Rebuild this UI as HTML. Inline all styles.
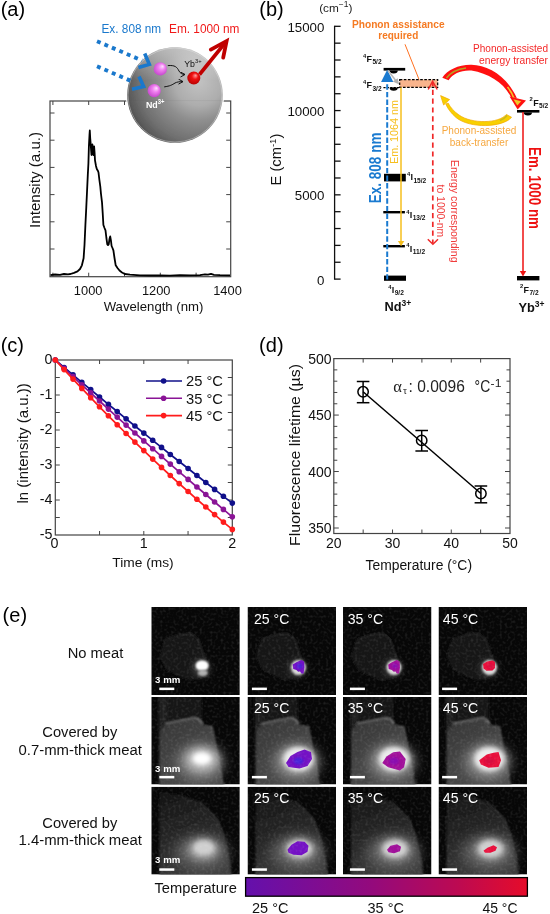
<!DOCTYPE html>
<html><head><meta charset="utf-8"><style>
html,body{margin:0;padding:0;background:#fff;}
svg{display:block;font-family:"Liberation Sans", sans-serif;will-change:transform;}
</style></head><body>
<svg width="550" height="914" viewBox="0 0 550 914">
<defs>
<radialGradient id="sph" cx="0.75" cy="0.36" r="0.9">
<stop offset="0" stop-color="#c2c2c2"/><stop offset="0.28" stop-color="#adadad"/><stop offset="0.45" stop-color="#8f8f8f"/><stop offset="0.7" stop-color="#707070"/><stop offset="0.86" stop-color="#545454"/><stop offset="1" stop-color="#4c4c4c"/></radialGradient>
<filter id="soft" x="-10%" y="-10%" width="120%" height="120%"><feGaussianBlur stdDeviation="0.7"/></filter>
<linearGradient id="sphtop" x1="0" y1="0" x2="0" y2="1"><stop offset="0" stop-color="#fff" stop-opacity="0.45"/><stop offset="0.35" stop-color="#fff" stop-opacity="0"/></linearGradient>
<radialGradient id="pink" cx="0.5" cy="0.45" r="0.6" fx="0.68" fy="0.3"><stop offset="0" stop-color="#ffe0ff"/><stop offset="0.4" stop-color="#f080f0"/><stop offset="1" stop-color="#c040c8"/></radialGradient>
<radialGradient id="redb" cx="0.5" cy="0.45" r="0.6" fx="0.65" fy="0.3"><stop offset="0" stop-color="#ffa0a0"/><stop offset="0.4" stop-color="#f01010"/><stop offset="1" stop-color="#b00000"/></radialGradient>
<marker id="ah" markerWidth="6" markerHeight="6" refX="5" refY="3" orient="auto" markerUnits="userSpaceOnUse"><path d="M0.5,0.5 L5,3 L0.5,5.5" fill="none" stroke="#111" stroke-width="1"/></marker>
<linearGradient id="cbar" x1="0" y1="0" x2="1" y2="0">
<stop offset="0" stop-color="#6410ac"/><stop offset="0.45" stop-color="#940a7c"/><stop offset="0.75" stop-color="#bc0a52"/><stop offset="1" stop-color="#e60c2a"/></linearGradient>
<linearGradient id="mg2" x1="0" y1="0" x2="0.6" y2="1"><stop offset="0" stop-color="#343434"/><stop offset="0.5" stop-color="#444444"/><stop offset="1" stop-color="#4a4a4a"/></linearGradient>
<linearGradient id="mg3" x1="0" y1="0" x2="0.3" y2="1"><stop offset="0" stop-color="#141414"/><stop offset="0.5" stop-color="#262626"/><stop offset="1" stop-color="#3c3c3c"/></linearGradient>
<filter id="noise" x="0" y="0" width="100%" height="100%"><feTurbulence type="fractalNoise" baseFrequency="0.38" numOctaves="1" seed="3"/><feColorMatrix type="matrix" values="0 0 0 0 1  0 0 0 0 1  0 0 0 0 1  1.2 0 0 0 -0.55"/></filter>
<filter id="b1" x="-50%" y="-50%" width="200%" height="200%"><feGaussianBlur stdDeviation="1"/></filter>
<filter id="b2" x="-50%" y="-50%" width="200%" height="200%"><feGaussianBlur stdDeviation="2"/></filter>
<filter id="b3" x="-50%" y="-50%" width="200%" height="200%"><feGaussianBlur stdDeviation="3.5"/></filter>
<filter id="b5" x="-50%" y="-50%" width="200%" height="200%"><feGaussianBlur stdDeviation="6"/></filter>
</defs>
<text x="0.7" y="15.6" font-size="20" text-anchor="start" fill="#000" >(a)</text>
<rect x="50" y="101" width="180.7" height="175.7" fill="none" stroke="#444" stroke-width="1.2"/>
<line x1="52.90" y1="276.70" x2="52.90" y2="272.70" stroke="#444" stroke-width="1" />
<line x1="52.90" y1="101.00" x2="52.90" y2="105.00" stroke="#444" stroke-width="1" />
<line x1="88.70" y1="276.70" x2="88.70" y2="272.70" stroke="#444" stroke-width="1" />
<line x1="88.70" y1="101.00" x2="88.70" y2="105.00" stroke="#444" stroke-width="1" />
<line x1="124.50" y1="276.70" x2="124.50" y2="272.70" stroke="#444" stroke-width="1" />
<line x1="124.50" y1="101.00" x2="124.50" y2="105.00" stroke="#444" stroke-width="1" />
<line x1="160.30" y1="276.70" x2="160.30" y2="272.70" stroke="#444" stroke-width="1" />
<line x1="160.30" y1="101.00" x2="160.30" y2="105.00" stroke="#444" stroke-width="1" />
<line x1="196.10" y1="276.70" x2="196.10" y2="272.70" stroke="#444" stroke-width="1" />
<line x1="196.10" y1="101.00" x2="196.10" y2="105.00" stroke="#444" stroke-width="1" />
<line x1="50.00" y1="113.00" x2="54.50" y2="113.00" stroke="#444" stroke-width="1" />
<line x1="230.70" y1="113.00" x2="226.20" y2="113.00" stroke="#444" stroke-width="1" />
<line x1="50.00" y1="140.20" x2="54.50" y2="140.20" stroke="#444" stroke-width="1" />
<line x1="230.70" y1="140.20" x2="226.20" y2="140.20" stroke="#444" stroke-width="1" />
<line x1="50.00" y1="167.40" x2="54.50" y2="167.40" stroke="#444" stroke-width="1" />
<line x1="230.70" y1="167.40" x2="226.20" y2="167.40" stroke="#444" stroke-width="1" />
<line x1="50.00" y1="194.60" x2="54.50" y2="194.60" stroke="#444" stroke-width="1" />
<line x1="230.70" y1="194.60" x2="226.20" y2="194.60" stroke="#444" stroke-width="1" />
<line x1="50.00" y1="221.80" x2="54.50" y2="221.80" stroke="#444" stroke-width="1" />
<line x1="230.70" y1="221.80" x2="226.20" y2="221.80" stroke="#444" stroke-width="1" />
<line x1="50.00" y1="249.00" x2="54.50" y2="249.00" stroke="#444" stroke-width="1" />
<line x1="230.70" y1="249.00" x2="226.20" y2="249.00" stroke="#444" stroke-width="1" />
<path d="M50.5,275.2 L55.0,274.5 L60.0,274.9 L64.0,274.0 L68.0,274.3 L70.5,274.0 L74.0,272.8 L77.5,271.4 L80.0,269.0 L81.9,265.3 L83.6,258.3 L84.5,245.0 L85.4,225.0 L86.3,207.0 L87.1,190.0 L87.8,175.0 L88.4,163.8 L88.9,146.3 L89.5,135.0 L89.8,130.5 L90.2,138.0 L90.6,142.8 L91.1,150.0 L91.5,155.0 L92.0,148.0 L92.4,144.5 L92.9,150.0 L93.3,155.0 L93.7,150.0 L94.1,146.3 L94.6,153.0 L95.0,160.3 L96.0,166.0 L96.8,169.0 L98.0,171.0 L98.5,172.5 L99.4,180.0 L100.3,186.5 L101.0,194.0 L102.0,202.3 L102.7,213.0 L103.4,225.0 L104.5,228.0 L105.5,230.3 L106.4,238.0 L107.3,244.3 L108.0,245.0 L108.7,244.3 L109.5,239.0 L110.2,236.4 L111.0,241.0 L111.6,246.0 L112.5,248.0 L113.4,250.4 L114.5,258.0 L115.7,265.3 L117.5,268.0 L119.5,270.5 L122.0,272.5 L124.8,274.0 L130.0,274.6 L140.0,275.3 L150.0,275.5 L160.0,275.3 L170.0,275.6 L180.0,275.2 L190.0,275.4 L200.0,275.1 L205.0,274.3 L208.0,274.6 L211.0,273.9 L214.0,274.8 L220.0,275.2 L230.0,275.4" fill="none" stroke="#000" stroke-width="1.8" stroke-linejoin="round"/>
<text x="88.15" y="295.3" font-size="12.7" text-anchor="middle" fill="#111" textLength="28.6" lengthAdjust="spacingAndGlyphs" >1000</text>
<text x="156.2" y="295.3" font-size="12.7" text-anchor="middle" fill="#111" textLength="28.6" lengthAdjust="spacingAndGlyphs" >1200</text>
<text x="227.5" y="295.3" font-size="12.7" text-anchor="middle" fill="#111" textLength="28.6" lengthAdjust="spacingAndGlyphs" >1400</text>
<text x="103.7" y="311.2" font-size="13.1" text-anchor="start" fill="#111" textLength="99.7" lengthAdjust="spacingAndGlyphs" >Wavelength (nm)</text>
<text x="40.2" y="227.9" font-size="14" text-anchor="start" fill="#111" transform="rotate(-90 40.2 227.9)" textLength="96" lengthAdjust="spacingAndGlyphs" >Intensity (a.u.)</text>
<circle cx="175" cy="95" r="49.2" fill="#fff" opacity="0.9"/>
<g filter="url(#soft)"><circle cx="175" cy="95" r="47.8" fill="url(#sph)"/>
<circle cx="175" cy="95" r="47.8" fill="url(#sphtop)"/>
<circle cx="175" cy="95" r="47" fill="none" stroke="#e8e8e8" stroke-width="1" opacity="0.4"/></g>
<line x1="128" y1="100.6" x2="222" y2="100.6" stroke="#505050" stroke-width="1" opacity="0.07"/>
<line x1="97" y1="41.2" x2="142" y2="60.5" stroke="#1a78cc" stroke-width="3.9" stroke-dasharray="3.9 4.2"/>
<line x1="97" y1="66.3" x2="134" y2="82.2" stroke="#1a78cc" stroke-width="3.9" stroke-dasharray="3.9 4.2"/>
<path d="M144.7,53.5 L149.3,64.4 L138.4,67.5" fill="none" stroke="#1a78cc" stroke-width="3.6"/>
<path d="M139,76.5 L143.6,86.6 L132,89.2" fill="none" stroke="#1a78cc" stroke-width="3.6"/>
<path d="M167.8,65.6 C175,65 177,67 179,71 C180,73 182,74.5 185,74.5" fill="none" stroke="#111" stroke-width="1" marker-end="url(#ah)"/>
<path d="M164.2,86.9 C170,86 172,85 175,83 C177,82 179,81.6 183,81.6" fill="none" stroke="#111" stroke-width="1" marker-end="url(#ah)"/>
<circle cx="160.3" cy="68.9" r="6.6" fill="url(#pink)"/>
<circle cx="154.2" cy="90.7" r="6.6" fill="url(#pink)"/>
<circle cx="193.8" cy="78" r="6.5" fill="url(#redb)"/>
<line x1="199.5" y1="74.5" x2="225" y2="43" stroke="#c00000" stroke-width="3.6"/>
<path d="M210.8,49.6 L226.6,41 L223.2,57.6" fill="none" stroke="#c00000" stroke-width="3.8" stroke-linecap="round" stroke-linejoin="miter"/>
<text x="184.2" y="66.8" font-size="9.4" text-anchor="start" fill="#111" textLength="17.4" lengthAdjust="spacingAndGlyphs" >Yb<tspan font-size="6.2" dy="-3.4">3+</tspan></text>
<text x="145.9" y="107.6" font-size="9.8" text-anchor="start" fill="#fff" font-weight="bold" textLength="18.5" lengthAdjust="spacingAndGlyphs" >Nd<tspan font-size="6.5" dy="-3.5">3+</tspan></text>
<text x="101.5" y="33.2" font-size="12" text-anchor="start" fill="#1a78cc" textLength="59.7" lengthAdjust="spacingAndGlyphs" >Ex. 808 nm</text>
<text x="169" y="33.2" font-size="12" text-anchor="start" fill="#f01818" textLength="70.4" lengthAdjust="spacingAndGlyphs" >Em. 1000 nm</text>
<text x="259.3" y="15.6" font-size="20" text-anchor="start" fill="#000" >(b)</text>
<text x="319.2" y="12.2" font-size="11.8" text-anchor="start" fill="#222" >(cm<tspan font-size="8.5" dy="-5">−1</tspan><tspan dy="5">)</tspan></text>
<line x1="334.60" y1="25.71" x2="334.60" y2="279.70" stroke="#111" stroke-width="1.3" />
<line x1="334.60" y1="279.10" x2="340.60" y2="279.10" stroke="#111" stroke-width="1.3" />
<line x1="334.60" y1="262.25" x2="340.60" y2="262.25" stroke="#111" stroke-width="1.3" />
<line x1="334.60" y1="245.39" x2="340.60" y2="245.39" stroke="#111" stroke-width="1.3" />
<line x1="334.60" y1="228.54" x2="340.60" y2="228.54" stroke="#111" stroke-width="1.3" />
<line x1="334.60" y1="211.69" x2="340.60" y2="211.69" stroke="#111" stroke-width="1.3" />
<line x1="334.60" y1="194.84" x2="340.60" y2="194.84" stroke="#111" stroke-width="1.3" />
<line x1="334.60" y1="177.98" x2="340.60" y2="177.98" stroke="#111" stroke-width="1.3" />
<line x1="334.60" y1="161.13" x2="340.60" y2="161.13" stroke="#111" stroke-width="1.3" />
<line x1="334.60" y1="144.28" x2="340.60" y2="144.28" stroke="#111" stroke-width="1.3" />
<line x1="334.60" y1="127.42" x2="340.60" y2="127.42" stroke="#111" stroke-width="1.3" />
<line x1="334.60" y1="110.57" x2="340.60" y2="110.57" stroke="#111" stroke-width="1.3" />
<line x1="334.60" y1="93.72" x2="340.60" y2="93.72" stroke="#111" stroke-width="1.3" />
<line x1="334.60" y1="76.86" x2="340.60" y2="76.86" stroke="#111" stroke-width="1.3" />
<line x1="334.60" y1="60.01" x2="340.60" y2="60.01" stroke="#111" stroke-width="1.3" />
<line x1="334.60" y1="43.16" x2="340.60" y2="43.16" stroke="#111" stroke-width="1.3" />
<line x1="334.60" y1="26.31" x2="340.60" y2="26.31" stroke="#111" stroke-width="1.3" />
<text x="324.4" y="284.70000000000005" font-size="13.3" text-anchor="end" fill="#111" >0</text>
<text x="324.4" y="200.435" font-size="13.3" text-anchor="end" fill="#111" >5000</text>
<text x="324.4" y="116.16999999999999" font-size="13.3" text-anchor="end" fill="#111" >10000</text>
<text x="324.4" y="31.90500000000001" font-size="13.3" text-anchor="end" fill="#111" >15000</text>
<text x="280.9" y="185.4" font-size="14.7" text-anchor="start" fill="#111" transform="rotate(-90 280.9 185.4)" >E (cm<tspan font-size="9.5" dy="-5">-1</tspan><tspan dy="5">)</tspan></text>
<rect x="383.6" y="67.9" width="21.6" height="2.7" fill="#000"/>
<path d="M389.6,70.4 A4.1,3 0 0 0 397.8,70.4 Z" fill="#000"/>
<line x1="383.4" y1="87.6" x2="399.7" y2="87.6" stroke="#000" stroke-width="1.3" stroke-dasharray="2.2 1.2"/>
<path d="M389.6,87.6 A4.1,3.2 0 0 0 397.8,87.6 Z" fill="#000"/>
<rect x="384" y="173.8" width="21.8" height="7.6" fill="#000"/>
<rect x="383.3" y="211" width="21.6" height="2.4" fill="#000"/>
<rect x="383.3" y="245" width="21.6" height="2.4" fill="#000"/>
<rect x="384" y="275.6" width="22" height="5.2" fill="#000"/>
<rect x="517" y="110" width="22.4" height="2.6" fill="#000"/>
<path d="M523.8,112.4 A4.1,3 0 0 0 532,112.4 Z" fill="#000"/>
<rect x="517" y="276" width="22.4" height="4.4" fill="#000"/>
<line x1="387.2" y1="82" x2="387.2" y2="279.5" stroke="#1a7ad0" stroke-width="2" stroke-dasharray="5.4 2.2" stroke-dashoffset="5.3"/>
<rect x="399.7" y="79.6" width="38" height="7.8" fill="#f9b48c" stroke="#000" stroke-width="1.2" stroke-dasharray="2.6 1.5"/>
<line x1="405" y1="44.3" x2="419" y2="79.4" stroke="#ff7020" stroke-width="1"/>
<path d="M387.2,69.7 L393.3,81.9 L381.1,81.9 Z" fill="#1a7ad0"/>
<line x1="388" y1="70.5" x2="396.5" y2="81.5" stroke="#b8b8b8" stroke-width="1.6"/>
<path d="M399.2,84.6 L392.8,81.6 L397.6,78.2 Z" fill="#b0b0b0"/>
<line x1="401" y1="87.6" x2="401" y2="242" stroke="#f6bf1e" stroke-width="1.5"/>
<path d="M397.9,241 L404.3,241 L401.1,246.3 Z" fill="#f6bf1e"/>
<line x1="432.8" y1="83" x2="432.8" y2="243" stroke="#f02828" stroke-width="1.7" stroke-dasharray="5.2 3.6" stroke-dashoffset="2"/>
<path d="M428.2,89.5 L432.6,81.3 L437.2,89.5" fill="none" stroke="#f02828" stroke-width="1.5"/>
<path d="M427.8,239.2 L432.9,244.3 L438,239.2" fill="none" stroke="#f02828" stroke-width="1.5"/>
<line x1="523" y1="112" x2="523" y2="272" stroke="#ee1111" stroke-width="1.5"/>
<path d="M519.8,271 L526.2,271 L523,276.5 Z" fill="#ee1111"/>
<path d="M442.3,77.7 C447,70 459,64.5 471.4,64.8 C488,65.3 507,76 516.8,98 L511.2,97.5 C504,83 489,73.5 471.4,70.6 C461,70 453,73.5 448.6,80.2 Z" fill="#ff1010"/>
<path d="M446.5,78 C451,72 458,69 466,68" fill="none" stroke="#b8a020" stroke-width="1.5"/>
<path d="M507.5,87 C510.5,90.5 512.5,94 514,98.5" fill="none" stroke="#f0c828" stroke-width="1.6"/>
<path d="M509.6,96.6 L526,100.6 L517.6,109.6 Z" fill="#ff1010"/>
<path d="M513.4,99.2 L521.2,101.2 L517.3,105.4 Z" fill="#f0c828"/>
<path d="M511.6,117.3 C503,127.5 470,129 456,117.5 C451,113 447.5,108.5 445.8,104 L448.1,103 C450.5,107.5 454,111.5 459,115 C472,124.2 499,123.5 506.4,114.4 Z" fill="#f8d000" stroke="#f2a800" stroke-width="0.7"/>
<path d="M507,115.5 C505,118 503,119.5 500,120.5" fill="none" stroke="#c8b820" stroke-width="1.5"/>
<path d="M440.6,95.6 L449.6,99.6 L443.6,105 Z" fill="#f8d000" stroke="#f2a800" stroke-width="0.7"/>
<text x="398.3" y="27.7" font-size="10.2" text-anchor="middle" fill="#f57a22" font-weight="bold" textLength="92.7" lengthAdjust="spacingAndGlyphs" >Phonon assistance</text>
<text x="398.3" y="38.6" font-size="10.2" text-anchor="middle" fill="#f57a22" font-weight="bold" textLength="39.9" lengthAdjust="spacingAndGlyphs" >required</text>
<text x="548" y="52" font-size="10.3" text-anchor="end" fill="#f42828" textLength="75" lengthAdjust="spacingAndGlyphs" >Phonon-assisted</text>
<text x="548" y="64.2" font-size="10.3" text-anchor="end" fill="#f42828" textLength="69" lengthAdjust="spacingAndGlyphs" >energy transfer</text>
<text x="479" y="134.1" font-size="10.2" text-anchor="middle" fill="#f6a840" textLength="74.6" lengthAdjust="spacingAndGlyphs" >Phonon-assisted</text>
<text x="479" y="146.2" font-size="10.2" text-anchor="middle" fill="#f6a840" textLength="58.5" lengthAdjust="spacingAndGlyphs" >back-transfer</text>
<text x="381" y="203.3" font-size="16.2" text-anchor="start" fill="#1a7ad0" font-weight="bold" transform="rotate(-90 381 203.3)" textLength="70.8" lengthAdjust="spacingAndGlyphs" >Ex. 808 nm</text>
<text x="398.3" y="164" font-size="10.8" text-anchor="start" fill="#f6bf1e" transform="rotate(-90 398.3 164)" textLength="64" lengthAdjust="spacingAndGlyphs" >Em. 1064 nm</text>
<text x="528.6" y="147" font-size="16.4" text-anchor="start" fill="#ee1111" font-weight="bold" transform="rotate(90 528.6 147)" textLength="82" lengthAdjust="spacingAndGlyphs" >Em. 1000 nm</text>
<text x="450.6" y="160" font-size="11.5" text-anchor="start" fill="#f03c3c" transform="rotate(90 450.6 160)" textLength="102.5" lengthAdjust="spacingAndGlyphs" >Energy corresponding</text>
<text x="437.4" y="184.6" font-size="11.5" text-anchor="start" fill="#f03c3c" transform="rotate(90 437.4 184.6)" textLength="52.6" lengthAdjust="spacingAndGlyphs" >to 1000-nm</text>
<text x="363" y="62.1" font-size="9" font-weight="bold" fill="#111"><tspan font-size="5.8" dy="-4.6">4</tspan><tspan dy="4.6" dx="0.3">F</tspan><tspan font-size="6.6" dy="2.2" dx="0.4">5/2</tspan></text>
<text x="363" y="88.3" font-size="9" font-weight="bold" fill="#111"><tspan font-size="5.8" dy="-4.6">4</tspan><tspan dy="4.6" dx="0.3">F</tspan><tspan font-size="6.6" dy="2.2" dx="0.4">3/2</tspan></text>
<text x="407" y="180.3" font-size="9" font-weight="bold" fill="#111"><tspan font-size="5.8" dy="-4.6">4</tspan><tspan dy="4.6" dx="0.3">I</tspan><tspan font-size="6.6" dy="2.2" dx="0.4">15/2</tspan></text>
<text x="406.2" y="218.2" font-size="9" font-weight="bold" fill="#111"><tspan font-size="5.8" dy="-4.6">4</tspan><tspan dy="4.6" dx="0.3">I</tspan><tspan font-size="6.6" dy="2.2" dx="0.4">13/2</tspan></text>
<text x="406.2" y="251.8" font-size="9" font-weight="bold" fill="#111"><tspan font-size="5.8" dy="-4.6">4</tspan><tspan dy="4.6" dx="0.3">I</tspan><tspan font-size="6.6" dy="2.2" dx="0.4">11/2</tspan></text>
<text x="388.2" y="293.2" font-size="9" font-weight="bold" fill="#111"><tspan font-size="5.8" dy="-4.6">4</tspan><tspan dy="4.6" dx="0.3">I</tspan><tspan font-size="6.6" dy="2.2" dx="0.4">9/2</tspan></text>
<text x="529.6" y="106" font-size="9" font-weight="bold" fill="#111"><tspan font-size="5.8" dy="-4.6">2</tspan><tspan dy="4.6" dx="0.3">F</tspan><tspan font-size="6.6" dy="2.2" dx="0.4">5/2</tspan></text>
<text x="520" y="293" font-size="9" font-weight="bold" fill="#111"><tspan font-size="5.8" dy="-4.6">2</tspan><tspan dy="4.6" dx="0.3">F</tspan><tspan font-size="6.6" dy="2.2" dx="0.4">7/2</tspan></text>
<text x="384.4" y="311.4" font-size="12.8" text-anchor="start" fill="#111" font-weight="bold" >Nd<tspan font-size="8.5" dy="-5">3+</tspan></text>
<text x="518.4" y="312" font-size="12.8" text-anchor="start" fill="#111" font-weight="bold" >Yb<tspan font-size="8.5" dy="-5">3+</tspan></text>
<text x="0.7" y="352.2" font-size="20" text-anchor="start" fill="#000" >(c)</text>
<rect x="55.3" y="360" width="177.0" height="175" fill="none" stroke="#444" stroke-width="1.2"/>
<line x1="99.55" y1="535.00" x2="99.55" y2="531.00" stroke="#444" stroke-width="1" />
<line x1="99.55" y1="360.00" x2="99.55" y2="364.00" stroke="#444" stroke-width="1" />
<line x1="143.80" y1="535.00" x2="143.80" y2="531.00" stroke="#444" stroke-width="1" />
<line x1="143.80" y1="360.00" x2="143.80" y2="364.00" stroke="#444" stroke-width="1" />
<line x1="188.05" y1="535.00" x2="188.05" y2="531.00" stroke="#444" stroke-width="1" />
<line x1="188.05" y1="360.00" x2="188.05" y2="364.00" stroke="#444" stroke-width="1" />
<line x1="55.30" y1="377.50" x2="59.80" y2="377.50" stroke="#444" stroke-width="1" />
<line x1="232.30" y1="377.50" x2="227.80" y2="377.50" stroke="#444" stroke-width="1" />
<line x1="55.30" y1="395.00" x2="59.80" y2="395.00" stroke="#444" stroke-width="1" />
<line x1="232.30" y1="395.00" x2="227.80" y2="395.00" stroke="#444" stroke-width="1" />
<line x1="55.30" y1="412.50" x2="59.80" y2="412.50" stroke="#444" stroke-width="1" />
<line x1="232.30" y1="412.50" x2="227.80" y2="412.50" stroke="#444" stroke-width="1" />
<line x1="55.30" y1="430.00" x2="59.80" y2="430.00" stroke="#444" stroke-width="1" />
<line x1="232.30" y1="430.00" x2="227.80" y2="430.00" stroke="#444" stroke-width="1" />
<line x1="55.30" y1="447.50" x2="59.80" y2="447.50" stroke="#444" stroke-width="1" />
<line x1="232.30" y1="447.50" x2="227.80" y2="447.50" stroke="#444" stroke-width="1" />
<line x1="55.30" y1="465.00" x2="59.80" y2="465.00" stroke="#444" stroke-width="1" />
<line x1="232.30" y1="465.00" x2="227.80" y2="465.00" stroke="#444" stroke-width="1" />
<line x1="55.30" y1="482.50" x2="59.80" y2="482.50" stroke="#444" stroke-width="1" />
<line x1="232.30" y1="482.50" x2="227.80" y2="482.50" stroke="#444" stroke-width="1" />
<line x1="55.30" y1="500.00" x2="59.80" y2="500.00" stroke="#444" stroke-width="1" />
<line x1="232.30" y1="500.00" x2="227.80" y2="500.00" stroke="#444" stroke-width="1" />
<line x1="55.30" y1="517.50" x2="59.80" y2="517.50" stroke="#444" stroke-width="1" />
<line x1="232.30" y1="517.50" x2="227.80" y2="517.50" stroke="#444" stroke-width="1" />
<text x="52.4" y="363.7" font-size="14.3" text-anchor="end" fill="#111" >0</text>
<text x="52.4" y="398.7" font-size="14.3" text-anchor="end" fill="#111" >-1</text>
<text x="52.4" y="433.7" font-size="14.3" text-anchor="end" fill="#111" >-2</text>
<text x="52.4" y="468.7" font-size="14.3" text-anchor="end" fill="#111" >-3</text>
<text x="52.4" y="503.7" font-size="14.3" text-anchor="end" fill="#111" >-4</text>
<text x="52.4" y="538.7" font-size="14.3" text-anchor="end" fill="#111" >-5</text>
<text x="54.5" y="548.1" font-size="14.3" text-anchor="middle" fill="#111" >0</text>
<text x="143.8" y="548.1" font-size="14.3" text-anchor="middle" fill="#111" >1</text>
<text x="232.3" y="548.1" font-size="14.3" text-anchor="middle" fill="#111" >2</text>
<text x="112.3" y="566.8" font-size="13.7" text-anchor="start" fill="#111" textLength="61.3" lengthAdjust="spacingAndGlyphs" >Time (ms)</text>
<text x="28" y="503.5" font-size="14.8" text-anchor="start" fill="#111" transform="rotate(-90 28 503.5)" textLength="120.2" lengthAdjust="spacingAndGlyphs" >ln (intensity (a.u.))</text>
<path d="M55.3,360.0 L64.1,367.5 L73.0,374.9 L81.8,382.3 L90.7,389.6 L99.5,397.0 L108.4,404.3 L117.2,411.5 L126.1,418.8 L134.9,426.0 L143.8,433.1 L152.7,440.3 L161.5,447.4 L170.3,454.5 L179.2,461.5 L188.1,468.5 L196.9,475.5 L205.8,482.5 L214.6,489.4 L223.4,496.3 L232.3,503.1" fill="none" stroke="#10108a" stroke-width="1.7"/>
<circle cx="55.3" cy="360.0" r="2.8" fill="#10108a"/>
<circle cx="64.1" cy="367.5" r="2.8" fill="#10108a"/>
<circle cx="73.0" cy="374.9" r="2.8" fill="#10108a"/>
<circle cx="81.8" cy="382.3" r="2.8" fill="#10108a"/>
<circle cx="90.7" cy="389.6" r="2.8" fill="#10108a"/>
<circle cx="99.5" cy="397.0" r="2.8" fill="#10108a"/>
<circle cx="108.4" cy="404.3" r="2.8" fill="#10108a"/>
<circle cx="117.2" cy="411.5" r="2.8" fill="#10108a"/>
<circle cx="126.1" cy="418.8" r="2.8" fill="#10108a"/>
<circle cx="134.9" cy="426.0" r="2.8" fill="#10108a"/>
<circle cx="143.8" cy="433.1" r="2.8" fill="#10108a"/>
<circle cx="152.7" cy="440.3" r="2.8" fill="#10108a"/>
<circle cx="161.5" cy="447.4" r="2.8" fill="#10108a"/>
<circle cx="170.3" cy="454.5" r="2.8" fill="#10108a"/>
<circle cx="179.2" cy="461.5" r="2.8" fill="#10108a"/>
<circle cx="188.1" cy="468.5" r="2.8" fill="#10108a"/>
<circle cx="196.9" cy="475.5" r="2.8" fill="#10108a"/>
<circle cx="205.8" cy="482.5" r="2.8" fill="#10108a"/>
<circle cx="214.6" cy="489.4" r="2.8" fill="#10108a"/>
<circle cx="223.4" cy="496.3" r="2.8" fill="#10108a"/>
<circle cx="232.3" cy="503.1" r="2.8" fill="#10108a"/>
<path d="M55.3,360.0 L64.1,368.3 L73.0,376.6 L81.8,384.8 L90.7,392.9 L99.5,401.0 L108.4,409.1 L117.2,417.1 L126.1,425.1 L134.9,433.0 L143.8,440.9 L152.7,448.7 L161.5,456.4 L170.3,464.1 L179.2,471.8 L188.1,479.4 L196.9,487.0 L205.8,494.5 L214.6,502.0 L223.4,509.4 L232.3,516.8" fill="none" stroke="#8a1496" stroke-width="1.7"/>
<circle cx="55.3" cy="360.0" r="2.8" fill="#8a1496"/>
<circle cx="64.1" cy="368.3" r="2.8" fill="#8a1496"/>
<circle cx="73.0" cy="376.6" r="2.8" fill="#8a1496"/>
<circle cx="81.8" cy="384.8" r="2.8" fill="#8a1496"/>
<circle cx="90.7" cy="392.9" r="2.8" fill="#8a1496"/>
<circle cx="99.5" cy="401.0" r="2.8" fill="#8a1496"/>
<circle cx="108.4" cy="409.1" r="2.8" fill="#8a1496"/>
<circle cx="117.2" cy="417.1" r="2.8" fill="#8a1496"/>
<circle cx="126.1" cy="425.1" r="2.8" fill="#8a1496"/>
<circle cx="134.9" cy="433.0" r="2.8" fill="#8a1496"/>
<circle cx="143.8" cy="440.9" r="2.8" fill="#8a1496"/>
<circle cx="152.7" cy="448.7" r="2.8" fill="#8a1496"/>
<circle cx="161.5" cy="456.4" r="2.8" fill="#8a1496"/>
<circle cx="170.3" cy="464.1" r="2.8" fill="#8a1496"/>
<circle cx="179.2" cy="471.8" r="2.8" fill="#8a1496"/>
<circle cx="188.1" cy="479.4" r="2.8" fill="#8a1496"/>
<circle cx="196.9" cy="487.0" r="2.8" fill="#8a1496"/>
<circle cx="205.8" cy="494.5" r="2.8" fill="#8a1496"/>
<circle cx="214.6" cy="502.0" r="2.8" fill="#8a1496"/>
<circle cx="223.4" cy="509.4" r="2.8" fill="#8a1496"/>
<circle cx="232.3" cy="516.8" r="2.8" fill="#8a1496"/>
<path d="M55.3,360.0 L64.1,369.6 L73.0,379.1 L81.8,388.4 L90.7,397.7 L99.5,406.8 L108.4,415.8 L117.2,424.7 L126.1,433.5 L134.9,442.1 L143.8,450.6 L152.7,459.1 L161.5,467.4 L170.3,475.5 L179.2,483.6 L188.1,491.5 L196.9,499.3 L205.8,507.0 L214.6,514.6 L223.4,522.1 L232.3,529.4" fill="none" stroke="#ff1c1c" stroke-width="1.7"/>
<circle cx="55.3" cy="360.0" r="2.8" fill="#ff1c1c"/>
<circle cx="64.1" cy="369.6" r="2.8" fill="#ff1c1c"/>
<circle cx="73.0" cy="379.1" r="2.8" fill="#ff1c1c"/>
<circle cx="81.8" cy="388.4" r="2.8" fill="#ff1c1c"/>
<circle cx="90.7" cy="397.7" r="2.8" fill="#ff1c1c"/>
<circle cx="99.5" cy="406.8" r="2.8" fill="#ff1c1c"/>
<circle cx="108.4" cy="415.8" r="2.8" fill="#ff1c1c"/>
<circle cx="117.2" cy="424.7" r="2.8" fill="#ff1c1c"/>
<circle cx="126.1" cy="433.5" r="2.8" fill="#ff1c1c"/>
<circle cx="134.9" cy="442.1" r="2.8" fill="#ff1c1c"/>
<circle cx="143.8" cy="450.6" r="2.8" fill="#ff1c1c"/>
<circle cx="152.7" cy="459.1" r="2.8" fill="#ff1c1c"/>
<circle cx="161.5" cy="467.4" r="2.8" fill="#ff1c1c"/>
<circle cx="170.3" cy="475.5" r="2.8" fill="#ff1c1c"/>
<circle cx="179.2" cy="483.6" r="2.8" fill="#ff1c1c"/>
<circle cx="188.1" cy="491.5" r="2.8" fill="#ff1c1c"/>
<circle cx="196.9" cy="499.3" r="2.8" fill="#ff1c1c"/>
<circle cx="205.8" cy="507.0" r="2.8" fill="#ff1c1c"/>
<circle cx="214.6" cy="514.6" r="2.8" fill="#ff1c1c"/>
<circle cx="223.4" cy="522.1" r="2.8" fill="#ff1c1c"/>
<circle cx="232.3" cy="529.4" r="2.8" fill="#ff1c1c"/>
<line x1="146.00" y1="381.00" x2="182.00" y2="381.00" stroke="#10108a" stroke-width="1.6" />
<circle cx="163.6" cy="381.0" r="2.8" fill="#10108a"/>
<text x="186" y="386.2" font-size="14.5" text-anchor="start" fill="#111" textLength="37" lengthAdjust="spacingAndGlyphs" >25 °C</text>
<line x1="146.00" y1="398.30" x2="182.00" y2="398.30" stroke="#8a1496" stroke-width="1.6" />
<circle cx="163.6" cy="398.3" r="2.8" fill="#8a1496"/>
<text x="186" y="403.5" font-size="14.5" text-anchor="start" fill="#111" textLength="37" lengthAdjust="spacingAndGlyphs" >35 °C</text>
<line x1="146.00" y1="415.60" x2="182.00" y2="415.60" stroke="#ff1c1c" stroke-width="1.6" />
<circle cx="163.6" cy="415.6" r="2.8" fill="#ff1c1c"/>
<text x="186" y="420.8" font-size="14.5" text-anchor="start" fill="#111" textLength="37" lengthAdjust="spacingAndGlyphs" >45 °C</text>
<text x="259.1" y="352.3" font-size="20" text-anchor="start" fill="#000" >(d)</text>
<rect x="333.8" y="358.6" width="176.2" height="174.89999999999998" fill="none" stroke="#444" stroke-width="1.2"/>
<line x1="363.17" y1="533.50" x2="363.17" y2="529.50" stroke="#444" stroke-width="1" />
<line x1="363.17" y1="358.60" x2="363.17" y2="362.60" stroke="#444" stroke-width="1" />
<line x1="392.53" y1="533.50" x2="392.53" y2="529.50" stroke="#444" stroke-width="1" />
<line x1="392.53" y1="358.60" x2="392.53" y2="362.60" stroke="#444" stroke-width="1" />
<line x1="421.90" y1="533.50" x2="421.90" y2="529.50" stroke="#444" stroke-width="1" />
<line x1="421.90" y1="358.60" x2="421.90" y2="362.60" stroke="#444" stroke-width="1" />
<line x1="451.27" y1="533.50" x2="451.27" y2="529.50" stroke="#444" stroke-width="1" />
<line x1="451.27" y1="358.60" x2="451.27" y2="362.60" stroke="#444" stroke-width="1" />
<line x1="480.63" y1="533.50" x2="480.63" y2="529.50" stroke="#444" stroke-width="1" />
<line x1="480.63" y1="358.60" x2="480.63" y2="362.60" stroke="#444" stroke-width="1" />
<line x1="333.80" y1="528.00" x2="338.80" y2="528.00" stroke="#444" stroke-width="1" />
<line x1="510.00" y1="528.00" x2="505.00" y2="528.00" stroke="#444" stroke-width="1" />
<line x1="333.80" y1="516.71" x2="337.30" y2="516.71" stroke="#444" stroke-width="1" />
<line x1="510.00" y1="516.71" x2="506.50" y2="516.71" stroke="#444" stroke-width="1" />
<line x1="333.80" y1="505.41" x2="337.30" y2="505.41" stroke="#444" stroke-width="1" />
<line x1="510.00" y1="505.41" x2="506.50" y2="505.41" stroke="#444" stroke-width="1" />
<line x1="333.80" y1="494.12" x2="337.30" y2="494.12" stroke="#444" stroke-width="1" />
<line x1="510.00" y1="494.12" x2="506.50" y2="494.12" stroke="#444" stroke-width="1" />
<line x1="333.80" y1="482.83" x2="337.30" y2="482.83" stroke="#444" stroke-width="1" />
<line x1="510.00" y1="482.83" x2="506.50" y2="482.83" stroke="#444" stroke-width="1" />
<line x1="333.80" y1="471.53" x2="338.80" y2="471.53" stroke="#444" stroke-width="1" />
<line x1="510.00" y1="471.53" x2="505.00" y2="471.53" stroke="#444" stroke-width="1" />
<line x1="333.80" y1="460.24" x2="337.30" y2="460.24" stroke="#444" stroke-width="1" />
<line x1="510.00" y1="460.24" x2="506.50" y2="460.24" stroke="#444" stroke-width="1" />
<line x1="333.80" y1="448.95" x2="337.30" y2="448.95" stroke="#444" stroke-width="1" />
<line x1="510.00" y1="448.95" x2="506.50" y2="448.95" stroke="#444" stroke-width="1" />
<line x1="333.80" y1="437.65" x2="337.30" y2="437.65" stroke="#444" stroke-width="1" />
<line x1="510.00" y1="437.65" x2="506.50" y2="437.65" stroke="#444" stroke-width="1" />
<line x1="333.80" y1="426.36" x2="337.30" y2="426.36" stroke="#444" stroke-width="1" />
<line x1="510.00" y1="426.36" x2="506.50" y2="426.36" stroke="#444" stroke-width="1" />
<line x1="333.80" y1="415.07" x2="338.80" y2="415.07" stroke="#444" stroke-width="1" />
<line x1="510.00" y1="415.07" x2="505.00" y2="415.07" stroke="#444" stroke-width="1" />
<line x1="333.80" y1="403.77" x2="337.30" y2="403.77" stroke="#444" stroke-width="1" />
<line x1="510.00" y1="403.77" x2="506.50" y2="403.77" stroke="#444" stroke-width="1" />
<line x1="333.80" y1="392.48" x2="337.30" y2="392.48" stroke="#444" stroke-width="1" />
<line x1="510.00" y1="392.48" x2="506.50" y2="392.48" stroke="#444" stroke-width="1" />
<line x1="333.80" y1="381.19" x2="337.30" y2="381.19" stroke="#444" stroke-width="1" />
<line x1="510.00" y1="381.19" x2="506.50" y2="381.19" stroke="#444" stroke-width="1" />
<line x1="333.80" y1="369.89" x2="337.30" y2="369.89" stroke="#444" stroke-width="1" />
<line x1="510.00" y1="369.89" x2="506.50" y2="369.89" stroke="#444" stroke-width="1" />
<text x="331.5" y="533.0" font-size="14" text-anchor="end" fill="#111" >350</text>
<text x="331.5" y="476.53333333333336" font-size="14" text-anchor="end" fill="#111" >400</text>
<text x="331.5" y="420.0666666666667" font-size="14" text-anchor="end" fill="#111" >450</text>
<text x="331.5" y="363.6" font-size="14" text-anchor="end" fill="#111" >500</text>
<text x="333.8" y="548.2" font-size="14" text-anchor="middle" fill="#111" >20</text>
<text x="392.53333333333336" y="548.2" font-size="14" text-anchor="middle" fill="#111" >30</text>
<text x="451.26666666666665" y="548.2" font-size="14" text-anchor="middle" fill="#111" >40</text>
<text x="510.0" y="548.2" font-size="14" text-anchor="middle" fill="#111" >50</text>
<text x="365.5" y="569.7" font-size="14" text-anchor="start" fill="#111" textLength="106.5" lengthAdjust="spacingAndGlyphs" >Temperature (°C)</text>
<text x="299.5" y="546" font-size="14.2" text-anchor="start" fill="#111" transform="rotate(-90 299.5 546)" textLength="182" lengthAdjust="spacingAndGlyphs" >Fluorescence lifetime (µs)</text>
<line x1="363.10" y1="391.80" x2="480.90" y2="493.50" stroke="#000" stroke-width="1.5" />
<line x1="363.10" y1="381.50" x2="363.10" y2="402.70" stroke="#000" stroke-width="1.5" />
<line x1="356.80" y1="381.50" x2="369.40" y2="381.50" stroke="#000" stroke-width="1.5" />
<line x1="356.80" y1="402.70" x2="369.40" y2="402.70" stroke="#000" stroke-width="1.5" />
<circle cx="363.1" cy="391.8" r="5.2" fill="none" stroke="#000" stroke-width="1.5"/>
<line x1="421.70" y1="430.50" x2="421.70" y2="451.00" stroke="#000" stroke-width="1.5" />
<line x1="415.40" y1="430.50" x2="428.00" y2="430.50" stroke="#000" stroke-width="1.5" />
<line x1="415.40" y1="451.00" x2="428.00" y2="451.00" stroke="#000" stroke-width="1.5" />
<circle cx="421.7" cy="440.4" r="5.2" fill="none" stroke="#000" stroke-width="1.5"/>
<line x1="480.90" y1="486.00" x2="480.90" y2="502.80" stroke="#000" stroke-width="1.5" />
<line x1="474.60" y1="486.00" x2="487.20" y2="486.00" stroke="#000" stroke-width="1.5" />
<line x1="474.60" y1="502.80" x2="487.20" y2="502.80" stroke="#000" stroke-width="1.5" />
<circle cx="480.9" cy="493.5" r="5.2" fill="none" stroke="#000" stroke-width="1.5"/>
<text x="393.2" y="392" font-size="16.5" text-anchor="start" fill="#222" font-family="Liberation Serif">&#945;</text>
<text x="403.1" y="393.5" font-size="10" text-anchor="start" fill="#222" font-family="Liberation Serif">&#964;</text>
<text x="408.6" y="392" font-size="15.7" text-anchor="start" fill="#222" >:</text>
<text x="417.2" y="392" font-size="15.7" text-anchor="start" fill="#222" textLength="47.6" lengthAdjust="spacingAndGlyphs" >0.0096</text>
<text x="474.6" y="392" font-size="15.7" text-anchor="start" fill="#222" textLength="15.6" lengthAdjust="spacingAndGlyphs" >°C</text>
<text x="490.6" y="386.6" font-size="10" text-anchor="start" fill="#222" textLength="10.8" lengthAdjust="spacingAndGlyphs" >-1</text>
<text x="2.6" y="621.8" font-size="20" text-anchor="start" fill="#000" >(e)</text>
<text x="95.5" y="658.2" font-size="14.7" text-anchor="middle" fill="#111" textLength="55.7" lengthAdjust="spacingAndGlyphs" >No meat</text>
<text x="79.8" y="736.8" font-size="14.7" text-anchor="middle" fill="#111" textLength="75" lengthAdjust="spacingAndGlyphs" >Covered by</text>
<text x="80.2" y="754.5" font-size="14.7" text-anchor="middle" fill="#111" textLength="123.3" lengthAdjust="spacingAndGlyphs" >0.7-mm-thick meat</text>
<text x="79.8" y="827.6" font-size="14.7" text-anchor="middle" fill="#111" textLength="75" lengthAdjust="spacingAndGlyphs" >Covered by</text>
<text x="80.2" y="845.2" font-size="14.7" text-anchor="middle" fill="#111" textLength="123.3" lengthAdjust="spacingAndGlyphs" >1.4-mm-thick meat</text>
<clipPath id="c00"><rect x="151.3" y="607" width="88.5" height="88"/></clipPath>
<g clip-path="url(#c00)">
<rect x="151.3" y="607" width="88.5" height="88" fill="#070707"/>
<polygon points="165.0,639.5 180.1,634.4 191.8,633.6 198.5,639.5 203.5,654.5 207.7,666.2 208.5,674.6 200.2,678.0 190.1,679.6 180.1,676.3 166.7,669.6 160.0,656.2" fill="#141414" filter="url(#b1)" stroke="#1a1a1a" stroke-width="1.2"/>
<polyline points="165.3,639.5 180.1,634.6 191.8,633.8 198.5,639.5 203.5,654.5 207.7,666.2" fill="none" stroke="#262626" stroke-width="1.2" filter="url(#b1)"/>
<ellipse cx="201.3" cy="668.0" rx="8" ry="8" fill="#4a4a4a" filter="url(#b3)"/>
<ellipse cx="202.1" cy="665.6" rx="6.6" ry="5.3" fill="#ffffff" filter="url(#b1)"/>
<ellipse cx="202.8" cy="673.0" rx="5" ry="3.2" fill="#b0b0b0" filter="url(#b1)"/>
<rect x="151.3" y="607" width="88.5" height="88" filter="url(#noise)" opacity="0.22"/>
<rect x="159.3" y="687.6" width="15" height="2.5" fill="#fff"/>
<text x="155.10000000000002" y="683" font-size="9.8" text-anchor="start" fill="#fff" font-weight="bold" textLength="25.2" lengthAdjust="spacingAndGlyphs" >3 mm</text>
</g>
<clipPath id="c01"><rect x="247.5" y="607" width="88.5" height="88"/></clipPath>
<g clip-path="url(#c01)">
<rect x="247.5" y="607" width="88.5" height="88" fill="#070707"/>
<polygon points="261.2,639.5 276.3,634.4 288.0,633.6 294.7,639.5 299.7,654.5 303.9,666.2 304.7,674.6 296.4,678.0 286.3,679.6 276.3,676.3 262.9,669.6 256.2,656.2" fill="#141414" filter="url(#b1)" stroke="#1a1a1a" stroke-width="1.2"/>
<polyline points="261.5,639.5 276.3,634.6 288.0,633.8 294.7,639.5 299.7,654.5 303.9,666.2" fill="none" stroke="#262626" stroke-width="1.2" filter="url(#b1)"/>
<ellipse cx="297.5" cy="668.0" rx="8" ry="8" fill="#4a4a4a" filter="url(#b3)"/>
<ellipse cx="298.5" cy="667.5" rx="7.5" ry="7.5" fill="#d8d8d8" filter="url(#b1)"/>
<polygon points="292.7,664.5 296.4,662.3 301.4,660.0 304.1,661.4 304.5,667.3 303.6,673.6 301.4,673.6 300.0,671.4 298.2,671.8 296.4,670.0 293.2,669.1" fill="#7412c4"/>
<ellipse cx="299.5" cy="666.0" rx="3" ry="2.5" fill="#4a22d8" filter="url(#b1)"/>
<rect x="247.5" y="607" width="88.5" height="88" filter="url(#noise)" opacity="0.22"/>
<rect x="251.9" y="687.6" width="15" height="2.5" fill="#fff"/>
<text x="254" y="623.6" font-size="15" text-anchor="start" fill="#fff" textLength="35.4" lengthAdjust="spacingAndGlyphs" >25 °C</text>
</g>
<clipPath id="c02"><rect x="343" y="607" width="88.5" height="88"/></clipPath>
<g clip-path="url(#c02)">
<rect x="343" y="607" width="88.5" height="88" fill="#070707"/>
<polygon points="356.7,639.5 371.8,634.4 383.5,633.6 390.2,639.5 395.2,654.5 399.4,666.2 400.2,674.6 391.9,678.0 381.8,679.6 371.8,676.3 358.4,669.6 351.7,656.2" fill="#141414" filter="url(#b1)" stroke="#1a1a1a" stroke-width="1.2"/>
<polyline points="357.0,639.5 371.8,634.6 383.5,633.8 390.2,639.5 395.2,654.5 399.4,666.2" fill="none" stroke="#262626" stroke-width="1.2" filter="url(#b1)"/>
<ellipse cx="393.0" cy="668.0" rx="8" ry="8" fill="#4a4a4a" filter="url(#b3)"/>
<ellipse cx="394.0" cy="667.5" rx="7.5" ry="7.5" fill="#d8d8d8" filter="url(#b1)"/>
<polygon points="388.2,664.5 391.9,662.3 396.9,660.0 399.6,661.4 400.0,667.3 399.1,673.6 396.9,673.6 395.5,671.4 393.7,671.8 391.9,670.0 388.7,669.1" fill="#a0109a"/>
<ellipse cx="395.0" cy="666.0" rx="3" ry="2.5" fill="#8a10b0" filter="url(#b1)"/>
<rect x="343" y="607" width="88.5" height="88" filter="url(#noise)" opacity="0.22"/>
<rect x="349.9" y="687.6" width="15" height="2.5" fill="#fff"/>
<text x="347.7" y="623.6" font-size="15" text-anchor="start" fill="#fff" textLength="35.4" lengthAdjust="spacingAndGlyphs" >35 °C</text>
</g>
<clipPath id="c03"><rect x="438.5" y="607" width="88.5" height="88"/></clipPath>
<g clip-path="url(#c03)">
<rect x="438.5" y="607" width="88.5" height="88" fill="#070707"/>
<polygon points="452.2,639.5 467.3,634.4 479.0,633.6 485.7,639.5 490.7,654.5 494.9,666.2 495.7,674.6 487.4,678.0 477.3,679.6 467.3,676.3 453.9,669.6 447.2,656.2" fill="#141414" filter="url(#b1)" stroke="#1a1a1a" stroke-width="1.2"/>
<polyline points="452.5,639.5 467.3,634.6 479.0,633.8 485.7,639.5 490.7,654.5 494.9,666.2" fill="none" stroke="#262626" stroke-width="1.2" filter="url(#b1)"/>
<ellipse cx="488.5" cy="668.0" rx="8" ry="8" fill="#4a4a4a" filter="url(#b3)"/>
<ellipse cx="489.5" cy="667.5" rx="7.5" ry="7.5" fill="#d8d8d8" filter="url(#b1)"/>
<polygon points="483.0,664.0 487.0,661.5 492.5,660.5 495.0,662.0 495.0,668.0 492.5,670.5 486.5,670.8 483.5,668.5" fill="#e8103c"/>
<ellipse cx="490.5" cy="666.0" rx="3" ry="2.5" fill="#d81040" filter="url(#b1)"/>
<rect x="438.5" y="607" width="88.5" height="88" filter="url(#noise)" opacity="0.22"/>
<rect x="442.1" y="687.6" width="15" height="2.5" fill="#fff"/>
<text x="442.8" y="623.6" font-size="15" text-anchor="start" fill="#fff" textLength="35.4" lengthAdjust="spacingAndGlyphs" >45 °C</text>
</g>
<clipPath id="c10"><rect x="151.3" y="697" width="88.5" height="87.5"/></clipPath>
<g clip-path="url(#c10)">
<rect x="151.3" y="697" width="88.5" height="87.5" fill="#070707"/>
<polygon points="159.3,695.0 201.8,695.0 201.8,719.4 195.3,717.7 165.3,723.6 159.3,730.0" fill="#181818" filter="url(#b1)"/>
<polygon points="159.3,695.0 167.3,695.0 166.3,723.0 159.3,730.0" fill="#222222" filter="url(#b2)"/>
<polygon points="159.3,730.0 165.3,723.6 195.3,717.7 199.3,719.4 201.8,719.4 203.5,726.0 211.9,726.9 214.3,739.5 216.9,752.9 218.6,762.9 221.9,776.3 224.4,784.7 224.8,789.0 159.3,789.0" fill="url(#mg2)" filter="url(#b1)"/>
<polyline points="165.3,723.6 195.3,717.7 199.3,719.4 202.3,724.0" fill="none" stroke="#909090" stroke-width="1.3" filter="url(#b1)"/>
<polyline points="203.5,726.0 211.9,726.9 214.3,739.5 216.9,752.9 218.6,762.9 221.9,776.3" fill="none" stroke="#6a6a6a" stroke-width="1.2" filter="url(#b1)"/>
<ellipse cx="200.3" cy="762.0" rx="23" ry="18" fill="#808080" filter="url(#b5)"/>
<ellipse cx="201.8" cy="759.5" rx="16" ry="12" fill="#b8b8b8" filter="url(#b3)"/>
<ellipse cx="201.8" cy="758.5" rx="9.5" ry="6.5" fill="#ffffff" filter="url(#b2)"/>
<rect x="151.3" y="697" width="88.5" height="87.5" filter="url(#noise)" opacity="0.22"/>
<rect x="159.3" y="775.9" width="15" height="2.5" fill="#fff"/>
<text x="155.10000000000002" y="772" font-size="9.8" text-anchor="start" fill="#fff" font-weight="bold" textLength="25.2" lengthAdjust="spacingAndGlyphs" >3 mm</text>
</g>
<clipPath id="c11"><rect x="247.5" y="697" width="88.5" height="87.5"/></clipPath>
<g clip-path="url(#c11)">
<rect x="247.5" y="697" width="88.5" height="87.5" fill="#070707"/>
<polygon points="255.5,695.0 298.0,695.0 298.0,719.4 291.5,717.7 261.5,723.6 255.5,730.0" fill="#181818" filter="url(#b1)"/>
<polygon points="255.5,695.0 263.5,695.0 262.5,723.0 255.5,730.0" fill="#222222" filter="url(#b2)"/>
<polygon points="255.5,730.0 261.5,723.6 291.5,717.7 295.5,719.4 298.0,719.4 299.7,726.0 308.1,726.9 310.5,739.5 313.1,752.9 314.8,762.9 318.1,776.3 320.6,784.7 321.0,789.0 255.5,789.0" fill="url(#mg2)" filter="url(#b1)"/>
<polyline points="261.5,723.6 291.5,717.7 295.5,719.4 298.5,724.0" fill="none" stroke="#909090" stroke-width="1.3" filter="url(#b1)"/>
<polyline points="299.7,726.0 308.1,726.9 310.5,739.5 313.1,752.9 314.8,762.9 318.1,776.3" fill="none" stroke="#6a6a6a" stroke-width="1.2" filter="url(#b1)"/>
<ellipse cx="296.5" cy="762.0" rx="23" ry="18" fill="#808080" filter="url(#b5)"/>
<ellipse cx="298.0" cy="759.5" rx="16" ry="12" fill="#b8b8b8" filter="url(#b3)"/>
<ellipse cx="298.5" cy="759.0" rx="14.5" ry="11.5" fill="#ececec" filter="url(#b2)"/>
<polygon points="286.0,763.0 290.5,756.0 297.5,752.0 304.5,749.5 311.0,752.0 312.0,759.0 307.5,766.0 299.5,768.5 288.5,767.0" fill="#7412c4"/>
<ellipse cx="298.5" cy="761.0" rx="5" ry="3.5" fill="#4a22d8" filter="url(#b1)"/>
<rect x="247.5" y="697" width="88.5" height="87.5" filter="url(#noise)" opacity="0.22"/>
<rect x="251.9" y="775.9" width="15" height="2.5" fill="#fff"/>
<text x="254" y="712.6" font-size="15" text-anchor="start" fill="#fff" textLength="35.4" lengthAdjust="spacingAndGlyphs" >25 °C</text>
</g>
<clipPath id="c12"><rect x="343" y="697" width="88.5" height="87.5"/></clipPath>
<g clip-path="url(#c12)">
<rect x="343" y="697" width="88.5" height="87.5" fill="#070707"/>
<polygon points="351.0,695.0 393.5,695.0 393.5,719.4 387.0,717.7 357.0,723.6 351.0,730.0" fill="#181818" filter="url(#b1)"/>
<polygon points="351.0,695.0 359.0,695.0 358.0,723.0 351.0,730.0" fill="#222222" filter="url(#b2)"/>
<polygon points="351.0,730.0 357.0,723.6 387.0,717.7 391.0,719.4 393.5,719.4 395.2,726.0 403.6,726.9 406.0,739.5 408.6,752.9 410.3,762.9 413.6,776.3 416.1,784.7 416.5,789.0 351.0,789.0" fill="url(#mg2)" filter="url(#b1)"/>
<polyline points="357.0,723.6 387.0,717.7 391.0,719.4 394.0,724.0" fill="none" stroke="#909090" stroke-width="1.3" filter="url(#b1)"/>
<polyline points="395.2,726.0 403.6,726.9 406.0,739.5 408.6,752.9 410.3,762.9 413.6,776.3" fill="none" stroke="#6a6a6a" stroke-width="1.2" filter="url(#b1)"/>
<ellipse cx="392.0" cy="762.0" rx="23" ry="18" fill="#808080" filter="url(#b5)"/>
<ellipse cx="393.5" cy="759.5" rx="16" ry="12" fill="#b8b8b8" filter="url(#b3)"/>
<ellipse cx="394.0" cy="759.0" rx="14.5" ry="11.5" fill="#ececec" filter="url(#b2)"/>
<polygon points="382.3,763.1 386.5,756.4 393.2,752.2 399.9,751.4 405.7,758.9 404.1,767.3 399.9,770.6 388.2,767.3" fill="#a0109a"/>
<ellipse cx="394.0" cy="761.0" rx="5" ry="3.5" fill="#8a10b0" filter="url(#b1)"/>
<rect x="343" y="697" width="88.5" height="87.5" filter="url(#noise)" opacity="0.22"/>
<rect x="349.9" y="775.9" width="15" height="2.5" fill="#fff"/>
<text x="347.7" y="712.6" font-size="15" text-anchor="start" fill="#fff" textLength="35.4" lengthAdjust="spacingAndGlyphs" >35 °C</text>
</g>
<clipPath id="c13"><rect x="438.5" y="697" width="88.5" height="87.5"/></clipPath>
<g clip-path="url(#c13)">
<rect x="438.5" y="697" width="88.5" height="87.5" fill="#070707"/>
<polygon points="446.5,695.0 489.0,695.0 489.0,719.4 482.5,717.7 452.5,723.6 446.5,730.0" fill="#181818" filter="url(#b1)"/>
<polygon points="446.5,695.0 454.5,695.0 453.5,723.0 446.5,730.0" fill="#222222" filter="url(#b2)"/>
<polygon points="446.5,730.0 452.5,723.6 482.5,717.7 486.5,719.4 489.0,719.4 490.7,726.0 499.1,726.9 501.5,739.5 504.1,752.9 505.8,762.9 509.1,776.3 511.6,784.7 512.0,789.0 446.5,789.0" fill="url(#mg2)" filter="url(#b1)"/>
<polyline points="452.5,723.6 482.5,717.7 486.5,719.4 489.5,724.0" fill="none" stroke="#909090" stroke-width="1.3" filter="url(#b1)"/>
<polyline points="490.7,726.0 499.1,726.9 501.5,739.5 504.1,752.9 505.8,762.9 509.1,776.3" fill="none" stroke="#6a6a6a" stroke-width="1.2" filter="url(#b1)"/>
<ellipse cx="487.5" cy="762.0" rx="23" ry="18" fill="#808080" filter="url(#b5)"/>
<ellipse cx="489.0" cy="759.5" rx="16" ry="12" fill="#b8b8b8" filter="url(#b3)"/>
<ellipse cx="489.5" cy="759.0" rx="14.5" ry="11.5" fill="#ececec" filter="url(#b2)"/>
<polygon points="479.2,760.3 486.8,754.5 493.5,752.8 498.5,752.0 501.0,760.3 498.5,767.0 488.5,767.8 480.9,764.5" fill="#e8103c"/>
<ellipse cx="489.5" cy="761.0" rx="5" ry="3.5" fill="#d81040" filter="url(#b1)"/>
<rect x="438.5" y="697" width="88.5" height="87.5" filter="url(#noise)" opacity="0.22"/>
<rect x="442.1" y="775.9" width="15" height="2.5" fill="#fff"/>
<text x="442.8" y="712.6" font-size="15" text-anchor="start" fill="#fff" textLength="35.4" lengthAdjust="spacingAndGlyphs" >45 °C</text>
</g>
<clipPath id="c20"><rect x="151.3" y="786.7" width="88.5" height="87.89999999999998"/></clipPath>
<g clip-path="url(#c20)">
<rect x="151.3" y="786.7" width="88.5" height="87.89999999999998" fill="#070707"/>
<polygon points="159.3,792.7 181.3,794.7 200.2,801.7 216.9,818.5 223.6,835.2 226.9,851.9 230.3,865.3 232.3,878.7 159.3,878.7" fill="url(#mg3)" filter="url(#b1)"/>
<polyline points="200.2,801.7 216.9,818.5 223.6,835.2 226.9,851.9 230.3,865.3" fill="none" stroke="#4a4a4a" stroke-width="1" filter="url(#b1)"/>
<ellipse cx="201.3" cy="852.7" rx="27" ry="18" fill="#5a5a5a" filter="url(#b5)"/>
<ellipse cx="203.3" cy="849.7" rx="16" ry="11" fill="#9a9a9a" filter="url(#b3)"/>
<ellipse cx="203.8" cy="847.7" rx="10.5" ry="7.5" fill="#d0d0d0" filter="url(#b2)"/>
<rect x="151.3" y="786.7" width="88.5" height="87.89999999999998" filter="url(#noise)" opacity="0.22"/>
<rect x="159.3" y="868.3" width="15" height="2.5" fill="#fff"/>
<text x="155.10000000000002" y="862.6" font-size="9.8" text-anchor="start" fill="#fff" font-weight="bold" textLength="25.2" lengthAdjust="spacingAndGlyphs" >3 mm</text>
</g>
<clipPath id="c21"><rect x="247.5" y="786.7" width="88.5" height="87.89999999999998"/></clipPath>
<g clip-path="url(#c21)">
<rect x="247.5" y="786.7" width="88.5" height="87.89999999999998" fill="#070707"/>
<polygon points="255.5,792.7 277.5,794.7 296.4,801.7 313.1,818.5 319.8,835.2 323.1,851.9 326.5,865.3 328.5,878.7 255.5,878.7" fill="url(#mg3)" filter="url(#b1)"/>
<polyline points="296.4,801.7 313.1,818.5 319.8,835.2 323.1,851.9 326.5,865.3" fill="none" stroke="#4a4a4a" stroke-width="1" filter="url(#b1)"/>
<ellipse cx="297.5" cy="852.7" rx="27" ry="18" fill="#5a5a5a" filter="url(#b5)"/>
<ellipse cx="299.5" cy="849.7" rx="16" ry="11" fill="#9a9a9a" filter="url(#b3)"/>
<ellipse cx="299.5" cy="848.7" rx="12" ry="8.5" fill="#d0d0d0" filter="url(#b2)"/>
<polygon points="287.5,849.7 291.5,844.7 297.5,841.2 304.5,841.7 308.5,845.7 307.5,851.7 301.5,855.2 293.5,854.7 288.5,852.7" fill="#7412c4"/>
<rect x="247.5" y="786.7" width="88.5" height="87.89999999999998" filter="url(#noise)" opacity="0.22"/>
<rect x="251.9" y="868.3" width="15" height="2.5" fill="#fff"/>
<text x="254" y="803" font-size="15" text-anchor="start" fill="#fff" textLength="35.4" lengthAdjust="spacingAndGlyphs" >25 °C</text>
</g>
<clipPath id="c22"><rect x="343" y="786.7" width="88.5" height="87.89999999999998"/></clipPath>
<g clip-path="url(#c22)">
<rect x="343" y="786.7" width="88.5" height="87.89999999999998" fill="#070707"/>
<polygon points="351.0,792.7 373.0,794.7 391.9,801.7 408.6,818.5 415.3,835.2 418.6,851.9 422.0,865.3 424.0,878.7 351.0,878.7" fill="url(#mg3)" filter="url(#b1)"/>
<polyline points="391.9,801.7 408.6,818.5 415.3,835.2 418.6,851.9 422.0,865.3" fill="none" stroke="#4a4a4a" stroke-width="1" filter="url(#b1)"/>
<ellipse cx="393.0" cy="852.7" rx="27" ry="18" fill="#5a5a5a" filter="url(#b5)"/>
<ellipse cx="395.0" cy="849.7" rx="16" ry="11" fill="#9a9a9a" filter="url(#b3)"/>
<ellipse cx="395.0" cy="848.7" rx="12" ry="8.5" fill="#d0d0d0" filter="url(#b2)"/>
<polygon points="387.0,849.7 390.5,845.7 397.0,844.2 401.0,846.7 400.0,851.2 394.0,853.2 388.5,852.2" fill="#a0109a"/>
<rect x="343" y="786.7" width="88.5" height="87.89999999999998" filter="url(#noise)" opacity="0.22"/>
<rect x="349.9" y="868.3" width="15" height="2.5" fill="#fff"/>
<text x="347.7" y="803" font-size="15" text-anchor="start" fill="#fff" textLength="35.4" lengthAdjust="spacingAndGlyphs" >35 °C</text>
</g>
<clipPath id="c23"><rect x="438.5" y="786.7" width="88.5" height="87.89999999999998"/></clipPath>
<g clip-path="url(#c23)">
<rect x="438.5" y="786.7" width="88.5" height="87.89999999999998" fill="#070707"/>
<polygon points="446.5,792.7 468.5,794.7 487.4,801.7 504.1,818.5 510.8,835.2 514.1,851.9 517.5,865.3 519.5,878.7 446.5,878.7" fill="url(#mg3)" filter="url(#b1)"/>
<polyline points="487.4,801.7 504.1,818.5 510.8,835.2 514.1,851.9 517.5,865.3" fill="none" stroke="#4a4a4a" stroke-width="1" filter="url(#b1)"/>
<ellipse cx="488.5" cy="852.7" rx="27" ry="18" fill="#5a5a5a" filter="url(#b5)"/>
<ellipse cx="490.5" cy="849.7" rx="16" ry="11" fill="#9a9a9a" filter="url(#b3)"/>
<ellipse cx="490.5" cy="848.7" rx="12" ry="8.5" fill="#d0d0d0" filter="url(#b2)"/>
<polygon points="483.5,850.7 487.5,847.7 493.5,845.2 497.0,847.2 495.5,850.7 490.5,852.7 485.0,852.7" fill="#e8103c"/>
<rect x="438.5" y="786.7" width="88.5" height="87.89999999999998" filter="url(#noise)" opacity="0.22"/>
<rect x="442.1" y="868.3" width="15" height="2.5" fill="#fff"/>
<text x="442.8" y="803" font-size="15" text-anchor="start" fill="#fff" textLength="35.4" lengthAdjust="spacingAndGlyphs" >45 °C</text>
</g>
<rect x="245.6" y="877.6" width="281.8" height="18.6" fill="url(#cbar)" stroke="#000" stroke-width="1.3"/>
<text x="154.5" y="893.3" font-size="14.7" text-anchor="start" fill="#111" textLength="82.4" lengthAdjust="spacingAndGlyphs" >Temperature</text>
<text x="252" y="913" font-size="14.5" text-anchor="start" fill="#111" textLength="36.4" lengthAdjust="spacingAndGlyphs" >25 °C</text>
<text x="367.5" y="913" font-size="14.5" text-anchor="start" fill="#111" textLength="36.4" lengthAdjust="spacingAndGlyphs" >35 °C</text>
<text x="482.5" y="913" font-size="14.5" text-anchor="start" fill="#111" textLength="35" lengthAdjust="spacingAndGlyphs" >45 °C</text>
</svg></body></html>
